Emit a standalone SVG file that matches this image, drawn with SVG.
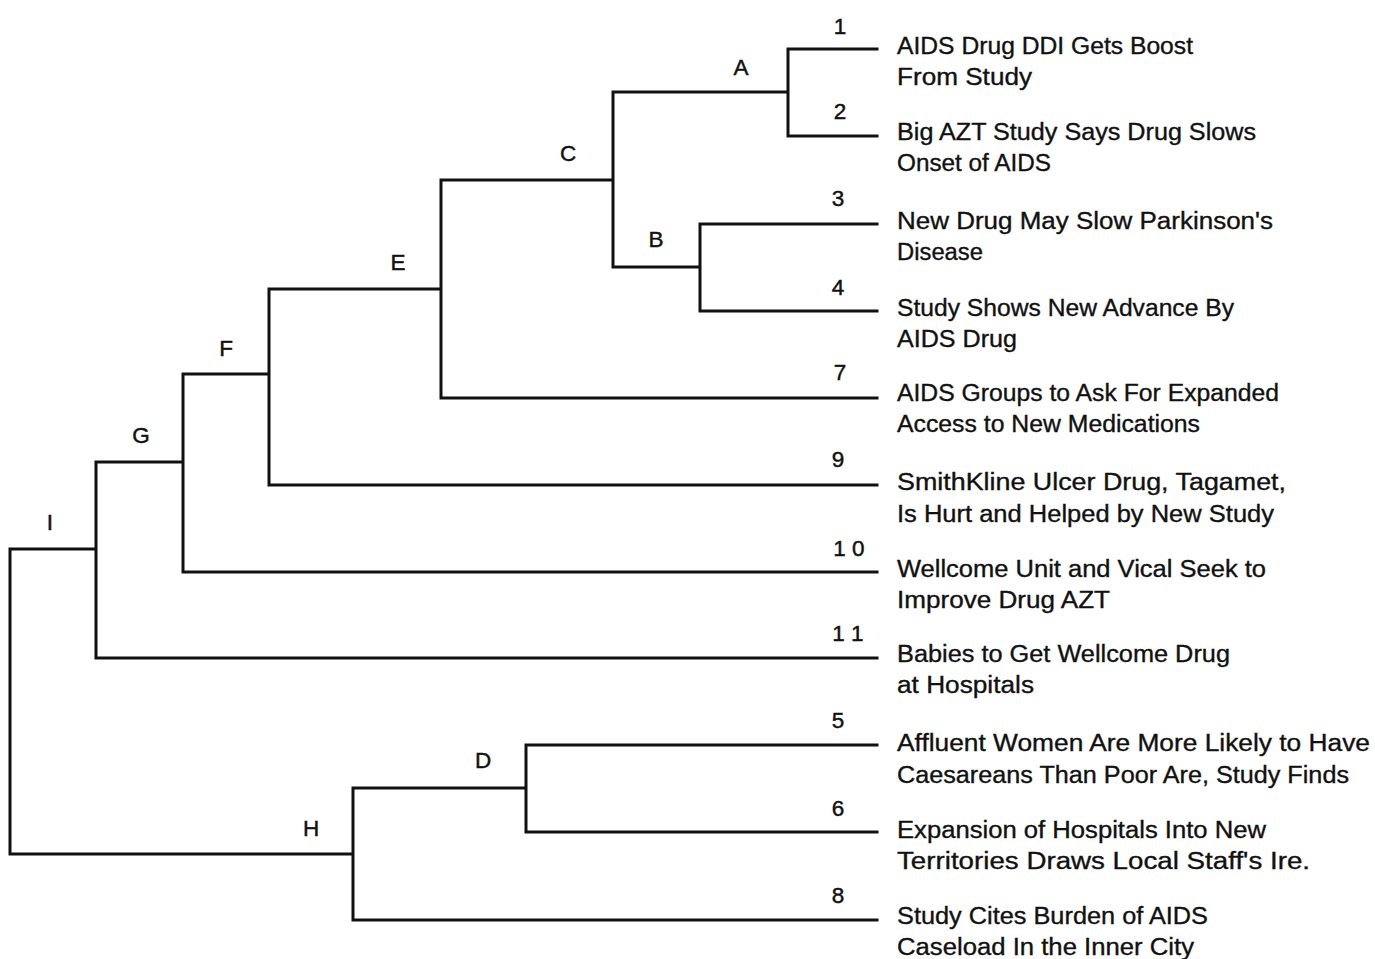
<svg xmlns="http://www.w3.org/2000/svg" width="1375" height="959" viewBox="0 0 1375 959">
<style>
.ln{fill:none;stroke:#111;stroke-width:3;stroke-linecap:square;stroke-linejoin:miter}
.t{font-family:"Liberation Sans",Arial,sans-serif;font-size:23.5px;fill:#111;stroke:#111;stroke-width:0.35}
.n{font-family:"Liberation Sans",Arial,sans-serif;font-size:22.5px;fill:#111;stroke:#111;stroke-width:0.45;text-anchor:middle}
</style>
<rect width="1375" height="959" fill="#fff"/>
<g id="connectors">
<path class="ln" d="M877 49H788V136H877M788 92H613V267H700M700 224H877M700 224V311H877M613 180H441V398H877M441 289H269V485H877M269 374H183V572H877M183 462H96V658H877M96 549H10V854H353M353 788V920H877M353 788H526M526 745V832H877M526 745H877"/>
</g>
<g id="internal-labels">
<text class="n" x="741" y="75">A</text>
<text class="n" x="656" y="247">B</text>
<text class="n" x="568" y="161">C</text>
<text class="n" x="483" y="768">D</text>
<text class="n" x="398" y="270">E</text>
<text class="n" x="226" y="356">F</text>
<text class="n" x="141" y="443">G</text>
<text class="n" x="311" y="836">H</text>
<text class="n" x="50" y="530">I</text>
</g>
<g id="leaf1"><text class="n" x="840" y="34">1</text>
<text class="t" x="897" y="54" textLength="296" lengthAdjust="spacingAndGlyphs">AIDS Drug DDI Gets Boost</text>
<text class="t" x="897" y="85" textLength="135" lengthAdjust="spacingAndGlyphs">From Study</text></g>
<g id="leaf2"><text class="n" x="840" y="119">2</text>
<text class="t" x="897" y="140" textLength="359" lengthAdjust="spacingAndGlyphs">Big AZT Study Says Drug Slows</text>
<text class="t" x="897" y="171" textLength="154" lengthAdjust="spacingAndGlyphs">Onset of AIDS</text></g>
<g id="leaf3"><text class="n" x="838" y="206">3</text>
<text class="t" x="897" y="229" textLength="376" lengthAdjust="spacingAndGlyphs">New Drug May Slow Parkinson's</text>
<text class="t" x="897" y="260" textLength="86" lengthAdjust="spacingAndGlyphs">Disease</text></g>
<g id="leaf4"><text class="n" x="838" y="295">4</text>
<text class="t" x="897" y="316" textLength="337" lengthAdjust="spacingAndGlyphs">Study Shows New Advance By</text>
<text class="t" x="897" y="347" textLength="120" lengthAdjust="spacingAndGlyphs">AIDS Drug</text></g>
<g id="leaf7"><text class="n" x="840" y="380">7</text>
<text class="t" x="897" y="401" textLength="382" lengthAdjust="spacingAndGlyphs">AIDS Groups to Ask For Expanded</text>
<text class="t" x="897" y="432" textLength="303" lengthAdjust="spacingAndGlyphs">Access to New Medications</text></g>
<g id="leaf9"><text class="n" x="838" y="467">9</text>
<text class="t" x="897" y="490" textLength="389" lengthAdjust="spacingAndGlyphs">SmithKline Ulcer Drug, Tagamet,</text>
<text class="t" x="897" y="522" textLength="377" lengthAdjust="spacingAndGlyphs">Is Hurt and Helped by New Study</text></g>
<g id="leaf10"><text class="n" x="849" y="556">1 0</text>
<text class="t" x="897" y="577" textLength="369" lengthAdjust="spacingAndGlyphs">Wellcome Unit and Vical Seek to</text>
<text class="t" x="897" y="608" textLength="213" lengthAdjust="spacingAndGlyphs">Improve Drug AZT</text></g>
<g id="leaf11"><text class="n" x="848" y="641">1 1</text>
<text class="t" x="897" y="662" textLength="333" lengthAdjust="spacingAndGlyphs">Babies to Get Wellcome Drug</text>
<text class="t" x="897" y="693" textLength="137" lengthAdjust="spacingAndGlyphs">at Hospitals</text></g>
<g id="leaf5"><text class="n" x="838" y="728">5</text>
<text class="t" x="897" y="751" textLength="473" lengthAdjust="spacingAndGlyphs">Affluent Women Are More Likely to Have</text>
<text class="t" x="897" y="783" textLength="452" lengthAdjust="spacingAndGlyphs">Caesareans Than Poor Are, Study Finds</text></g>
<g id="leaf6"><text class="n" x="838" y="816">6</text>
<text class="t" x="897" y="838" textLength="369" lengthAdjust="spacingAndGlyphs">Expansion of Hospitals Into New</text>
<text class="t" x="897" y="869" textLength="413" lengthAdjust="spacingAndGlyphs">Territories Draws Local Staff's Ire.</text></g>
<g id="leaf8"><text class="n" x="838" y="903">8</text>
<text class="t" x="897" y="924" textLength="311" lengthAdjust="spacingAndGlyphs">Study Cites Burden of AIDS</text>
<text class="t" x="897" y="955" textLength="297" lengthAdjust="spacingAndGlyphs">Caseload In the Inner City</text></g>
</svg>
